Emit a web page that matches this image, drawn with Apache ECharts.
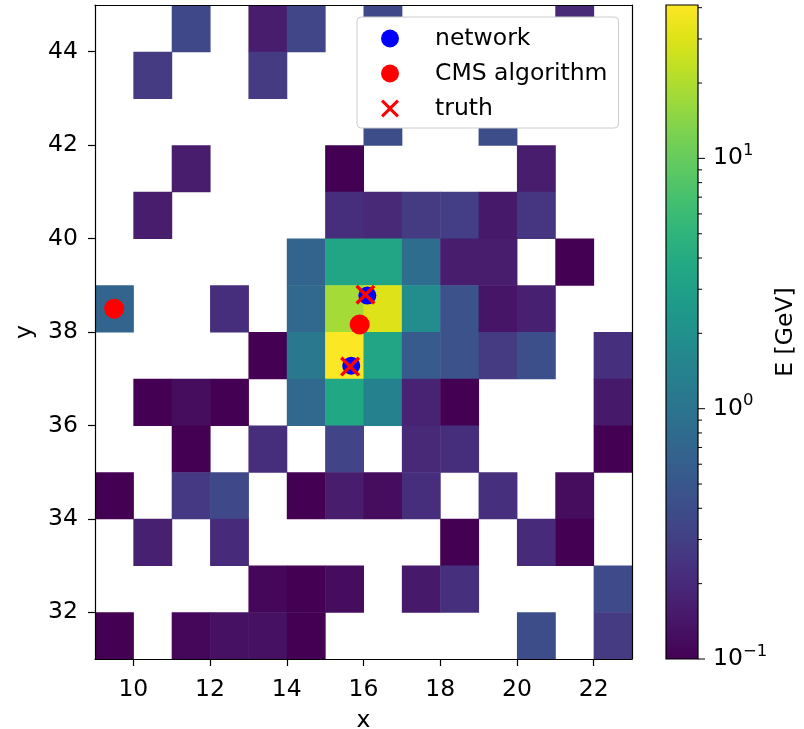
<!DOCTYPE html>
<html lang="en">
<head>
<meta charset="UTF-8">
<title>Calorimeter cell energies</title>
<script src="https://cdn.jsdelivr.net/npm/echarts@6/dist/echarts.min.js"></script>
<style>
  html, body { margin: 0; padding: 0; background: #fff; }
  #chart { width: 804px; height: 729px; }
</style>
</head>
<body>
<div id="chart"></div>
<script>
const _ = null;

// cell energy in GeV: one row per y bin, top row (y 44..45) first; columns are x = 9..22
const xBins = [9, 10, 11, 12, 13, 14, 15, 16, 17, 18, 19, 20, 21, 22];
const yBins = [44, 43, 42, 41, 40, 39, 38, 37, 36, 35, 34, 33, 32, 31];
const energy = [
  [_,   _,   .36, _,   .16, .35, _,   .36, _,   _,   _,   _,   .2,  _  ],
  [_,   .28, _,   _,   .28, _,   _,   _,   _,   _,   _,   _,   _,   _  ],
  [_,   _,   _,   _,   _,   _,   _,   .4,  _,   _,   .4,  _,   _,   _  ],
  [_,   _,   .16, _,   _,   _,   .1,  _,   _,   _,   _,   .16, _,   _  ],
  [_,   .16, _,   _,   _,   _,   .22, .2,  .28, .3,  .15, .25, _,   _  ],
  [_,   _,   _,   _,   _,   .68, 3.4, 3.4, .85, .16, .16, _,   .1,  _  ],
  [.68, _,   _,   .22, _,   .75, 18,  30,  1.8, .45, .14, .17, _,   _  ],
  [_,   _,   _,   _,   .1,  1.1, 40,  3.4, .55, .45, .28, .42, _,   .23],
  [_,   .1,  .12, .1,  _,   .75, 3.6, 1.4, .18, .1,  _,   _,   _,   .15],
  [_,   _,   .1,  _,   .22, _,   .33, _,   .2,  .22, _,   _,   _,   .1 ],
  [.1,  _,   .27, .36, _,   .1,  .16, .12, .22, _,   .23, _,   .12, _  ],
  [_,   .17, _,   .21, _,   _,   _,   _,   _,   .1,  _,   .21, .1,  _  ],
  [_,   _,   _,   _,   .11, .1,  .12, _,   .15, .23, _,   _,   _,   .38],
  [.1,  _,   .11, .13, .13, .1,  _,   _,   _,   _,   _,   .4,  _,   .28]
];

const networkPts = [[16.1, 38.78], [15.68, 37.28]];
const cmsPts = [[9.5, 38.5], [15.9, 38.16]];
const truthPts = [[16.05, 38.8], [15.65, 37.26]];

const xTicks = [10, 12, 14, 16, 18, 20, 22];
const yTicks = [32, 34, 36, 38, 40, 42, 44];

// colour bar (log scale)
const cbMin = 0.1;
const cbMax = 41;
const cbMajor = [0.1, 1, 10];
const cbExponents = ['\u22121', '0', '1'];
const cbMinor = [0.2, 0.3, 0.4, 0.5, 0.6, 0.7, 0.8, 0.9, 2, 3, 4, 5, 6, 7, 8, 9, 20, 30, 40];

const viridis = ['#440154', '#471365', '#482475', '#463480', '#414487', '#3b528b', '#355f8d',
  '#2f6c8e', '#2a788e', '#25848e', '#21918c', '#1e9c89', '#22a884', '#2fb47c', '#44bf70',
  '#5ec962', '#7ad151', '#9bd93c', '#bddf26', '#dfe318', '#fde725'];

const FONT = 'DejaVu Sans';
const FS = 23.5;

function hexRgb(h) {
  return [parseInt(h.slice(1, 3), 16), parseInt(h.slice(3, 5), 16), parseInt(h.slice(5, 7), 16)];
}

function colorFor(e) {
  let t = (Math.log10(e) - Math.log10(cbMin)) / (Math.log10(cbMax) - Math.log10(cbMin));
  t = Math.min(1, Math.max(0, t));
  const f = t * (viridis.length - 1);
  const i = Math.min(Math.floor(f), viridis.length - 2);
  const a = hexRgb(viridis[i]), b = hexRgb(viridis[i + 1]);
  const k = f - i;
  const c = a.map((v, j) => Math.round(v + (b[j] - v) * k));
  return 'rgb(' + c.join(',') + ')';
}

// flatten the grid to [x, y, E]
const cells = [];
yBins.forEach((y, r) => {
  xBins.forEach((x, c) => {
    const e = energy[r][c];
    if (e !== null) cells.push([x, y, e]);
  });
});

const chart = echarts.init(document.getElementById('chart'));

const labelStyle = { fontFamily: FONT, fontSize: FS, color: '#000' };
const lineStyle = { color: '#000', width: 1.2 };

const option = {
  animation: false,
  legend: {
    data: ['network', 'CMS algorithm', 'truth'],
    orient: 'vertical',
    left: 357,
    top: 17,
    padding: [8, 11, 6, 24],
    itemWidth: 18,
    itemHeight: 18,
    itemGap: 8,
    backgroundColor: '#ffffff',
    borderColor: '#cccccc',
    borderWidth: 1,
    borderRadius: 4,
    selectedMode: false,
    textStyle: { fontFamily: FONT, fontSize: FS, color: '#000', lineHeight: 27, padding: [0, 0, 0, 31] },
    z: 10
  },
  grid: [
    { left: 95, top: 5, width: 537, height: 654, outerBoundsMode: 'none' },
    { left: 666, top: 5, width: 32, height: 654, outerBoundsMode: 'none' }
  ],
  xAxis: [
    {
      gridIndex: 0, type: 'value', min: 9, max: 23, position: 'bottom', z: 5,
      axisLine: { onZero: false, lineStyle: lineStyle },
      axisTick: { length: 7, lineStyle: lineStyle, customValues: xTicks },
      axisLabel: Object.assign({ customValues: xTicks, margin: 19 }, labelStyle),
      splitLine: { show: false },
      name: 'x', nameLocation: 'middle', nameGap: 50, nameTextStyle: labelStyle
    },
    {
      gridIndex: 0, type: 'value', min: 9, max: 23, position: 'top', z: 5,
      axisLine: { onZero: false, lineStyle: lineStyle },
      axisTick: { show: false }, axisLabel: { show: false }, splitLine: { show: false }
    },
    { gridIndex: 1, type: 'value', min: 0, max: 1, show: false }
  ],
  yAxis: [
    {
      gridIndex: 0, type: 'value', min: 31, max: 45, position: 'left', z: 5,
      axisLine: { onZero: false, lineStyle: lineStyle },
      axisTick: { length: 7, lineStyle: lineStyle, customValues: yTicks },
      axisLabel: Object.assign({ customValues: yTicks, margin: 17 }, labelStyle),
      splitLine: { show: false },
      name: 'y', nameLocation: 'middle', nameGap: 56, nameRotate: 90, nameTextStyle: labelStyle
    },
    {
      gridIndex: 0, type: 'value', min: 31, max: 45, position: 'right', z: 5,
      axisLine: { onZero: false, lineStyle: lineStyle },
      axisTick: { show: false }, axisLabel: { show: false }, splitLine: { show: false }
    },
    {
      gridIndex: 1, type: 'log', logBase: 10, min: cbMin, max: cbMax, position: 'right',
      axisLine: { show: false }, axisTick: { show: false }, splitLine: { show: false },
      axisLabel: {
        margin: 15,
        formatter: function (v) {
          const i = cbMajor.findIndex(m => Math.abs(Math.log10(v) - Math.log10(m)) < 1e-6);
          return i < 0 ? '' : '{b|10}{s|' + cbExponents[i] + '}';
        },
        rich: {
          b: { fontFamily: FONT, fontSize: FS, color: '#000', lineHeight: 32 },
          s: { fontFamily: FONT, fontSize: 16.5, color: '#000', lineHeight: 18, verticalAlign: 'top' }
        }
      },
      name: 'E [GeV]', nameLocation: 'middle', nameGap: 76, nameRotate: 90, nameTextStyle: labelStyle
    }
  ],
  series: [
    {
      name: 'cells',
      type: 'custom',
      xAxisIndex: 0, yAxisIndex: 0,
      silent: true,
      clip: true,
      encode: { x: 0, y: 1 },
      data: cells,
      renderItem: function (params, api) {
        const x = api.value(0), y = api.value(1);
        const p0 = api.coord([x, y + 1]);
        const p1 = api.coord([x + 1, y]);
        return {
          type: 'rect',
          shape: { x: p0[0], y: p0[1], width: p1[0] - p0[0] + 0.5, height: p1[1] - p0[1] + 0.5 },
          style: { fill: colorFor(api.value(2)) }
        };
      },
      z: 1
    },
    {
      name: 'network', type: 'scatter', xAxisIndex: 0, yAxisIndex: 0,
      data: networkPts, symbol: 'circle', symbolSize: 18,
      itemStyle: { color: '#0000ff', opacity: 1 }, silent: true, z: 3
    },
    {
      name: 'CMS algorithm', type: 'scatter', xAxisIndex: 0, yAxisIndex: 0,
      data: cmsPts, symbol: 'circle', symbolSize: 20,
      itemStyle: { color: '#ff0000', opacity: 1 }, silent: true, z: 4
    },
    {
      name: 'truth', type: 'scatter', xAxisIndex: 0, yAxisIndex: 0,
      data: truthPts,
      symbol: 'path://M1.2,0L5,3.8L8.8,0L10,1.2L6.2,5L10,8.8L8.8,10L5,6.2L1.2,10L0,8.8L3.8,5L0,1.2Z',
      symbolSize: 20,
      itemStyle: { color: '#ff0000', opacity: 1 }, silent: true, z: 5
    },
    {
      name: 'colorbar', type: 'custom', xAxisIndex: 2, yAxisIndex: 2,
      silent: true, clip: false,
      data: [[0, cbMax]],
      renderItem: function (params, api) {
        const top = api.coord([0, cbMax]);
        const bot = api.coord([1, cbMin]);
        const stops = viridis.slice().reverse().map((c, i) => ({ offset: i / (viridis.length - 1), color: c }));
        return {
          type: 'rect',
          shape: { x: top[0], y: top[1], width: bot[0] - top[0], height: bot[1] - top[1] },
          style: {
            fill: { type: 'linear', x: 0, y: 0, x2: 0, y2: 1, colorStops: stops },
            stroke: '#000', lineWidth: 1.2
          }
        };
      }
    },
    {
      name: 'colorbar ticks', type: 'custom', xAxisIndex: 2, yAxisIndex: 2,
      silent: true, clip: false,
      data: cbMajor.map(v => [1, v, 7]).concat(cbMinor.map(v => [1, v, 4])),
      renderItem: function (params, api) {
        const p = api.coord([1, api.value(1)]);
        return {
          type: 'line',
          shape: { x1: p[0], y1: p[1], x2: p[0] + api.value(2), y2: p[1] },
          style: { stroke: '#000', lineWidth: 1 }
        };
      }
    }
  ]
};

chart.setOption(option);
</script>
</body>
</html>
